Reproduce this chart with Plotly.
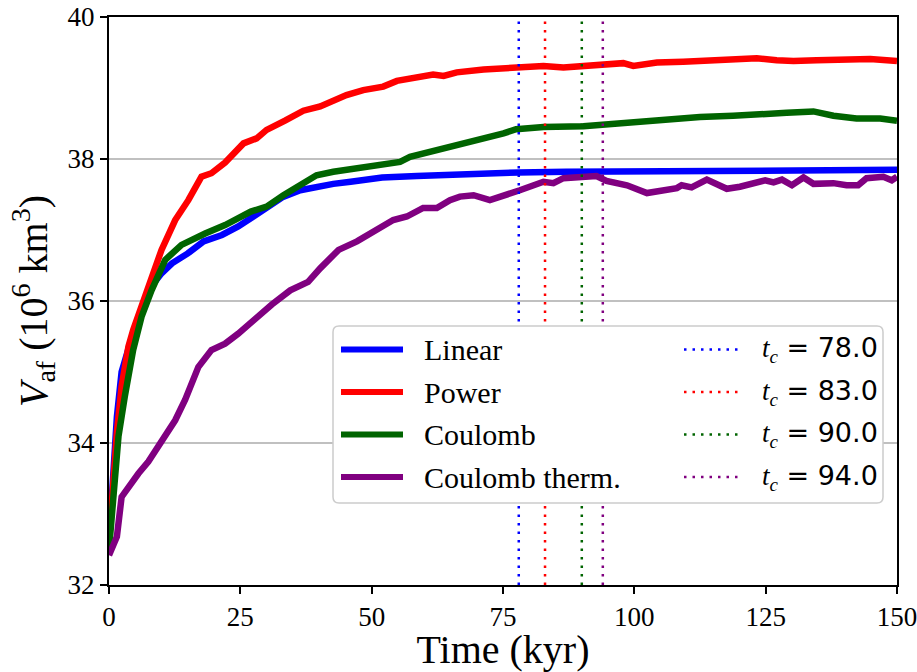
import plotly.graph_objects as go

# ---------------- data ----------------
linear_t = [0, 0.5, 1, 1.5, 2.4, 3.7, 5, 6.5, 8, 10, 12, 15, 18, 21.5, 24.6, 27.5, 30, 33,
            36.4, 39.5, 42.7, 46, 49, 52, 58.6, 65, 71, 78, 87, 100, 112, 125, 137, 150]
linear_v = [32.6, 33.3, 33.9, 34.37, 35.0, 35.36, 35.65, 35.95, 36.2, 36.39, 36.53, 36.67,
            36.84, 36.93, 37.05, 37.19, 37.31, 37.46, 37.56, 37.61, 37.65, 37.68, 37.71,
            37.74, 37.76, 37.78, 37.80, 37.81, 37.82, 37.82, 37.83, 37.84, 37.84, 37.85]

power_t = [0, 0.5, 1, 1.5, 2.4, 3.7, 4.6, 6, 7.5, 10, 12.6, 15.1, 17.6, 19.5, 22.1, 25.6,
           28.1, 30, 33.5, 37, 40.2, 45.2, 48.4, 52.2, 54.8, 57.3, 61.7, 63.7, 66.2, 71.3,
           75.1, 78.2, 82.7, 86.5, 90.3, 94.1, 97.9, 99.8, 104.3, 109.3, 115.7, 120.1,
           123.3, 127.1, 130.3, 134.7, 141.1, 144.9, 150]
power_v = [32.6, 33.2, 33.7, 34.15, 34.8, 35.36, 35.59, 35.9, 36.2, 36.72, 37.14, 37.42,
           37.75, 37.80, 37.95, 38.22, 38.29, 38.41, 38.54, 38.68, 38.74, 38.90, 38.97,
           39.02, 39.10, 39.14, 39.19, 39.17, 39.22, 39.26, 39.28, 39.30, 39.31, 39.29,
           39.31, 39.32, 39.35, 39.31, 39.36, 39.37, 39.39, 39.39, 39.42, 39.39, 39.38,
           39.39, 39.39, 39.41, 39.38]

coulomb_t = [0, 0.5, 1, 1.8, 3.0, 4.6, 6.2, 8.1, 10.7, 13.8, 18.3, 22.1, 27.0, 30, 33.2,
             36.4, 39.5, 42.7, 45.9, 49.1, 52.2, 55.4, 57.3, 60.5, 63.7, 67.4, 71.3, 75.1,
             77.5, 82.7, 90.3, 93.5, 96.6, 103, 109.3, 112.5, 118.8, 123.9, 129, 134.1,
             137.9, 142.3, 146.8, 150]
coulomb_v = [32.5, 33.0, 33.5, 34.09, 34.65, 35.31, 35.78, 36.15, 36.58, 36.79, 36.95,
             37.07, 37.26, 37.33, 37.49, 37.63, 37.77, 37.82, 37.85, 37.90, 37.92, 37.96,
             38.03, 38.09, 38.13, 38.20, 38.29, 38.36, 38.42, 38.45, 38.46, 38.48, 38.50,
             38.53, 38.56, 38.59, 38.61, 38.62, 38.65, 38.67, 38.61, 38.57, 38.57, 38.54]

therm_t = [0, 0.8, 1.5, 2.4, 3.7, 5.6, 7.5, 9.7, 12.6, 14.5, 17.0, 19.5, 22.1, 24.6, 27.8,
           31, 34.5, 37.9, 40.2, 43.7, 47.2, 51.0, 54.1, 56.7, 59.8, 62.4, 64.9, 66.8,
           69.4, 72.5, 75.7, 78.2, 82.7, 84.6, 86.5, 89.7, 92.8, 94.7, 96.0, 98.6, 102.4,
           104.9, 108.1, 109.0, 110.9, 113.8, 117.6, 120.1, 122.7, 124.9, 126.5, 128.1,
           130.0, 132.2, 134.1, 137.9, 140.4, 142.6, 144.2, 147.4, 149.0, 150]
therm_v = [32.42, 32.55, 32.68, 33.24, 33.38, 33.57, 33.74, 34.0, 34.32, 34.61, 35.07,
           35.31, 35.40, 35.54, 35.76, 35.95, 36.15, 36.27, 36.46, 36.72, 36.84, 37.0,
           37.14, 37.19, 37.31, 37.31, 37.42, 37.47, 37.49, 37.42, 37.49, 37.56, 37.68,
           37.66, 37.73, 37.75, 37.76, 37.69, 37.67, 37.63, 37.52, 37.56, 37.59, 37.63,
           37.60, 37.71, 37.58, 37.61, 37.66, 37.70, 37.67, 37.71, 37.63, 37.74, 37.65,
           37.66, 37.63, 37.63, 37.73, 37.75, 37.70, 37.75]

series_names = ["Linear", "Power", "Coulomb", "Coulomb therm."]
series_t = [linear_t, power_t, coulomb_t, therm_t]
series_v = [linear_v, power_v, coulomb_v, therm_v]
colors = ["#0000ff", "#ff0000", "#006400", "#800080"]
tc_values = [78.0, 83.0, 90.0, 94.0]

x_ticks = [0, 25, 50, 75, 100, 125, 150]
y_ticks = [32, 34, 36, 38, 40]

# ---------------- layout constants (pixels) ----------------
W, H = 917, 672
PL, PR, PT, PB = 109, 897, 17, 585
SERIF = "Liberation Serif"
SANS = "DejaVu Sans"


def fx(px):
    return (px - PL) / (PR - PL)


def fy(py):
    return (PB - py) / (PB - PT)


fig = go.Figure()

for name, t, v, c in zip(series_names, series_t, series_v, colors):
    fig.add_trace(go.Scatter(x=t, y=v, mode="lines", name=name,
                             line=dict(color=c, width=6.5), showlegend=False))

for tc, c in zip(tc_values, colors):
    fig.add_trace(go.Scatter(x=[tc, tc], y=[y_ticks[0], y_ticks[-1]], mode="lines",
                             name=f"t_c = {tc}",
                             line=dict(color=c, width=2.5, dash="2.5px,6px"),
                             showlegend=False))

# ---------------- custom two-column legend ----------------
bx0, by0, bx1, by1, r = 333, 326, 883, 503, 6
path = (f"M {fx(bx0 + r)},{fy(by0)} L {fx(bx1 - r)},{fy(by0)} "
        f"Q {fx(bx1)},{fy(by0)} {fx(bx1)},{fy(by0 + r)} "
        f"L {fx(bx1)},{fy(by1 - r)} Q {fx(bx1)},{fy(by1)} {fx(bx1 - r)},{fy(by1)} "
        f"L {fx(bx0 + r)},{fy(by1)} Q {fx(bx0)},{fy(by1)} {fx(bx0)},{fy(by1 - r)} "
        f"L {fx(bx0)},{fy(by0 + r)} Q {fx(bx0)},{fy(by0)} {fx(bx0 + r)},{fy(by0)} Z")
shapes = [dict(type="path", path=path, xref="paper", yref="paper", layer="above",
               fillcolor="white", line=dict(color="#cccccc", width=1.5))]
annotations = []
row_y = [349.5, 392, 434.5, 477]
for i, (name, c, tc) in enumerate(zip(series_names, colors, tc_values)):
    yy = fy(row_y[i])
    shapes.append(dict(type="line", xref="paper", yref="paper", layer="above",
                       x0=fx(341), x1=fx(403), y0=yy, y1=yy,
                       line=dict(color=c, width=6)))
    shapes.append(dict(type="line", xref="paper", yref="paper", layer="above",
                       x0=fx(684), x1=fx(741), y0=yy, y1=yy,
                       line=dict(color=c, width=2.5, dash="2.5px,6px")))
    annotations.append(dict(x=fx(422), y=yy, xref="paper", yref="paper",
                            xanchor="left", yanchor="middle", showarrow=False,
                            text=name, font=dict(family=SERIF, size=30, color="black")))
    annotations.append(dict(x=fx(760), y=yy, xref="paper", yref="paper",
                            xanchor="left", yanchor="middle", showarrow=False,
                            text=(f"<i>t</i><sub><i>c</i></sub>"
                                  f"<span style='font-family:{SANS}'> = {tc:.1f}</span>"),
                            font=dict(family=SERIF, size=27, color="black")))

axis_common = dict(showline=True, linecolor="black", linewidth=2, mirror=True,
                   ticks="outside", ticklen=7, tickwidth=2, tickcolor="black",
                   ticklabeloverflow="allow",
                   tickfont=dict(family=SERIF, size=27, color="black"), zeroline=False)

fig.update_layout(
    width=W, height=H,
    margin=dict(l=PL, r=W - PR, t=PT, b=H - PB, autoexpand=False),
    paper_bgcolor="white", plot_bgcolor="white",
    shapes=shapes, annotations=annotations, showlegend=False,
    xaxis=dict(range=[0, 150], tickvals=x_ticks, showgrid=False,
               title=dict(text="Time (kyr)", standoff=8,
                          font=dict(family=SERIF, size=40, color="black")),
               **axis_common),
    yaxis=dict(range=[32, 40], tickvals=y_ticks, showgrid=True, gridcolor="#c0c0c0",
               gridwidth=2,
               title=dict(text="<i>V</i><sub>af</sub> (10<sup>6</sup> km<sup>3</sup>)",
                          standoff=8, font=dict(family=SERIF, size=40, color="black")),
               **axis_common),
)

# remove the default 8px page margin so the figure fills the window exactly
fig.write_html("out.html", config={"displayModeBar": False},
               post_script="document.body.style.margin='0px';")
